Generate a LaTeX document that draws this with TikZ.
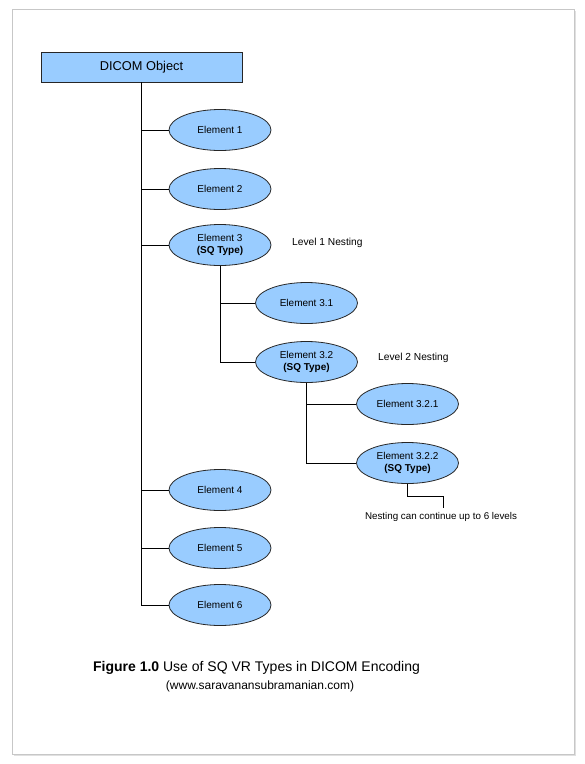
\documentclass[tikz,border=0pt]{standalone}
\usepackage{fontspec}
\setmainfont{Liberation Sans}
\usetikzlibrary{shapes.geometric}
\definecolor{elfill}{HTML}{99CCFF}
\begin{document}
\begin{tikzpicture}[x=1pt,y=-1pt,
  elem/.style={ellipse,draw=black!85,fill=elfill,line width=0.8pt,minimum width=102pt,minimum height=41pt,inner sep=0pt,font=\fontsize{10}{12}\selectfont,align=center},
  conn/.style={draw=black,line width=0.8pt},
  note/.style={font=\fontsize{10.2}{12}\selectfont,inner sep=0pt}]
\useasboundingbox (0,0) rectangle (585,764);
\draw[black!22,line width=1pt] (12,9) rectangle (574,754);
\draw[black!12,line width=1pt] (575.5,11) -- (575.5,755.5) -- (14,755.5);
\node[draw=black!85,fill=elfill,line width=0.8pt,minimum width=201pt,minimum height=30pt,inner sep=0pt,font=\fontsize{12.8}{15}\selectfont] (dicom) at (141.5,67) {DICOM Object};
\node[elem] (e1) at (220,130) {Element 1};
\node[elem] (e2) at (220,189) {Element 2};
\node[elem] (e3) at (220,245) {Element 3\\\textbf{(SQ Type)}};
\node[elem] (e31) at (306.5,303) {Element 3.1};
\node[elem] (e32) at (306.5,362) {Element 3.2\\\textbf{(SQ Type)}};
\node[elem] (e321) at (407.5,404) {Element 3.2.1};
\node[elem] (e322) at (407.5,463) {Element 3.2.2\\\textbf{(SQ Type)}};
\node[elem] (e4) at (220,490) {Element 4};
\node[elem] (e5) at (220,548) {Element 5};
\node[elem] (e6) at (220,605) {Element 6};
\node[note,anchor=west] (l1) at (292,243) {Level 1 Nesting};
\node[note,anchor=west] (l2) at (378,358) {Level 2 Nesting};
\coordinate (c1) at (407.5,496);
\coordinate (c2) at (443,496);
\coordinate (c3) at (443,508);
\node[note,anchor=north,font=\fontsize{9.8}{11}\selectfont] (nest) at (441,512) {Nesting can continue up to 6 levels};
\draw[conn] (dicom.south) |- (e6.west);
\draw[conn] (dicom.south) |- (e1.west);
\draw[conn] (dicom.south) |- (e2.west);
\draw[conn] (dicom.south) |- (e3.west);
\draw[conn] (dicom.south) |- (e4.west);
\draw[conn] (dicom.south) |- (e5.west);
\draw[conn] (e3.south) |- (e32.west);
\draw[conn] (e3.south) |- (e31.west);
\draw[conn] (e32.south) |- (e322.west);
\draw[conn] (e32.south) |- (e321.west);
\draw[conn] (e322.south) -- (c1) -- (c2) -- (c3);
\node[font=\fontsize{14}{16}\selectfont,inner sep=0pt] (cap) at (256.5,668) {\textbf{Figure 1.0} Use of SQ VR Types in DICOM Encoding};
\node[font=\fontsize{12}{14}\selectfont,inner sep=0pt] (url) at (260,686) {(www.saravanansubramanian.com)};
\end{tikzpicture}
\end{document}
